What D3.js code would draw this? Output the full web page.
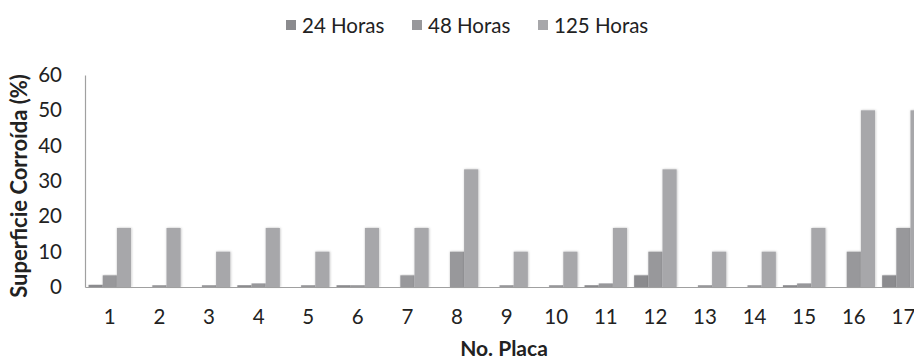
<!DOCTYPE html>
<html>
<head>
<meta charset="utf-8">
<script src="https://cdn.jsdelivr.net/npm/d3@7"></script>
<style>
  body { margin: 0; background: #fff; }
  svg { display: block; font-family: Lato, "Open Sans", sans-serif; }
</style>
</head>
<body>
<div id="chart"></div>
<script>
// data
const placas = ["1","2","3","4","5","6","7","8","9","10","11","12","13","14","15","16","17"];
const series = ["24 Horas", "48 Horas", "125 Horas"];
const horas24 = [0.6, 0, 0, 0.5, 0, 0.5, 0, 0, 0, 0, 0.5, 3.3, 0, 0, 0.5, 0, 3.3];
const horas48 = [3.3, 0.5, 0.5, 1, 0.5, 0.5, 3.3, 10, 0.5, 0.5, 1, 10, 0.5, 0.5, 1, 10, 16.7];
const horas125 = [16.7, 16.7, 10, 16.7, 10, 16.7, 16.7, 33.3, 10, 10, 16.7, 33.3, 10, 10, 16.7, 50, 50];
const yTicks = [0, 10, 20, 30, 40, 50, 60];
const colors = ["#8b8b8e", "#98989b", "#a7a7aa"];

const W = 914, H = 363;
const mLeft = 85, mTop = 75, mBottom = 287;
const bandW = 49.6;

const values = [horas24, horas48, horas125];
const rows = placas.map((p, i) => ({ placa: p, vals: values.map(v => v[i]) }));

const svg = d3.select("#chart").append("svg")
  .attr("width", W).attr("height", H);

const defs = svg.append("defs");
const f = defs.append("filter").attr("id", "soft")
  .attr("x", "-30%").attr("y", "-10%").attr("width", "160%").attr("height", "120%");
f.append("feDropShadow").attr("dx", 0.5).attr("dy", 0).attr("stdDeviation", 1.2)
  .attr("flood-color", "#000").attr("flood-opacity", 0.25);

const x = d3.scaleBand().domain(placas)
  .range([mLeft, mLeft + bandW * placas.length]).paddingInner(0).paddingOuter(0);
const x1 = d3.scaleBand().domain(series).range([0, x.bandwidth()])
  .paddingOuter(0.25).paddingInner(0);
const y = d3.scaleLinear().domain([0, 60]).range([mBottom, mTop]);

// bars
const g = svg.append("g");
g.selectAll("g.grp").data(rows).enter().append("g")
  .attr("class", "grp")
  .attr("transform", d => `translate(${x(d.placa)},0)`)
  .selectAll("rect")
  .data(d => d.vals.map((v, k) => ({ s: series[k], v, k })))
  .enter().append("rect")
  .attr("x", d => x1(d.s))
  .attr("y", d => y(d.v))
  .attr("width", x1.bandwidth())
  .attr("height", d => mBottom - y(d.v))
  .attr("fill", d => colors[d.k])
  .attr("filter", "url(#soft)");

// x axis
const xAxis = svg.append("g").attr("transform", `translate(0,${mBottom})`)
  .call(d3.axisBottom(x).tickSize(0).tickPadding(22));
xAxis.select(".domain").attr("stroke", "#a0a0a0").attr("stroke-width", 1.2);
xAxis.selectAll("text").attr("font-size", 20.5).attr("fill", "#222")
  .attr("font-family", "Lato, sans-serif");

// y axis
const yAxis = svg.append("g").attr("transform", `translate(${mLeft},0)`)
  .call(d3.axisLeft(y).tickValues(yTicks).tickSize(0).tickPadding(23));
yAxis.select(".domain").attr("stroke", "#a0a0a0").attr("stroke-width", 1.2);
yAxis.selectAll("text").attr("font-size", 20.5).attr("fill", "#222")
  .attr("font-family", "Lato, sans-serif");

// axis titles
svg.append("text")
  .attr("transform", `translate(27,${186}) rotate(-90)`)
  .attr("text-anchor", "middle")
  .attr("font-size", 22).attr("font-weight", "bold").attr("fill", "#222")
  .text("Superficie Corroída (%)");

svg.append("text")
  .attr("x", 504).attr("y", 356)
  .attr("text-anchor", "middle")
  .attr("font-size", 21).attr("font-weight", "bold").attr("fill", "#222")
  .text("No. Placa");

// legend
const legendX = [286, 412, 538];
const legend = svg.append("g");
series.forEach((s, k) => {
  legend.append("rect")
    .attr("x", legendX[k]).attr("y", 20).attr("width", 10).attr("height", 10)
    .attr("fill", colors[k]);
  legend.append("text")
    .attr("x", legendX[k] + 16).attr("y", 33)
    .attr("font-size", 20.5).attr("fill", "#222")
    .text(s);
});
</script>
</body>
</html>
